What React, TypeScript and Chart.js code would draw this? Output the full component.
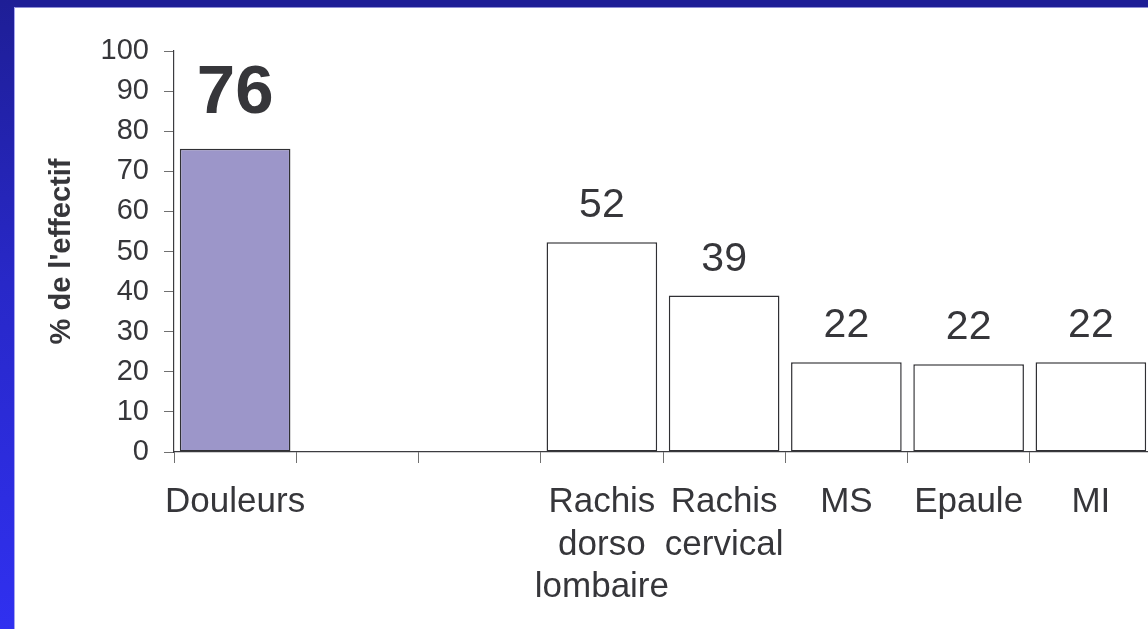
import React, { useEffect, useRef } from 'react';
import { Chart, registerables } from 'chart.js';

Chart.register(...registerables);

// ---- data ----
const categories: (string | string[])[] = [
  'Douleurs',
  '',
  '',
  ['Rachis', 'dorso', 'lombaire'],
  ['Rachis', 'cervical'],
  'MS',
  'Epaule',
  'MI',
];
const values: (number | null)[] = [75.6, null, null, 52.3, 39.0, 22.4, 21.9, 22.4];
const barFills: string[] = ['#9c96c9', '#ffffff', '#ffffff', '#ffffff', '#ffffff', '#ffffff', '#ffffff', '#ffffff'];
const yMin = 0;
const yMax = 100;
const yStep = 10;
const yTitle = "% de l'effectif";

// ---- style ----
const FONT = '"Liberation Sans", Arial, Helvetica, sans-serif';
const TEXT = '#36363a';
const W = 1148;
const H = 629;
const CANVAS_W = 1160;

const valueLabels = {
  id: 'valueLabels',
  afterDatasetsDraw(chart: any) {
    const ctx = chart.ctx;
    const meta = chart.getDatasetMeta(0);
    meta.data.forEach((el: any, i: number) => {
      const v = values[i];
      if (v == null) return;
      const big = i === 0;
      ctx.save();
      ctx.font = big ? `bold 69px ${FONT}` : `41px ${FONT}`;
      ctx.fillStyle = TEXT;
      ctx.textAlign = 'center';
      ctx.textBaseline = 'alphabetic';
      ctx.fillText(String(Math.round(v)), el.x, el.y - (big ? 36 : 25));
      ctx.restore();
    });
  },
};

export default function App() {
  const ref = useRef<HTMLCanvasElement | null>(null);

  useEffect(() => {
    if (!ref.current) return;
    const chart = new Chart(ref.current, {
      type: 'bar',
      data: {
        labels: categories as any,
        datasets: [
          {
            data: values as any,
            backgroundColor: barFills,
            borderColor: '#303034',
            borderWidth: 1.5,
            borderSkipped: false,
            barPercentage: 0.905,
            categoryPercentage: 1,
          },
        ],
      },
      options: {
        animation: false,
        responsive: false,
        devicePixelRatio: 1,
        layout: { padding: { top: 51, right: 8, bottom: 0, left: 0 } },
        plugins: {
          legend: { display: false },
          tooltip: { enabled: false },
          title: { display: false },
        },
        scales: {
          x: {
            type: 'category',
            offset: true,
            grid: {
              display: true,
              drawOnChartArea: false,
              drawTicks: true,
              tickLength: 11,
              color: '#707070',
              offset: true,
            },
            border: { display: true, color: '#3c3c40', width: 1.2 },
            ticks: {
              color: TEXT,
              font: { family: FONT, size: 35, lineHeight: 1.22 },
              padding: 18,
              maxRotation: 0,
              minRotation: 0,
              autoSkip: false,
            },
            afterFit: (scale: any) => {
              scale.height = H - 452;
            },
          },
          y: {
            min: yMin,
            max: yMax,
            grid: {
              display: true,
              drawOnChartArea: false,
              drawTicks: true,
              tickLength: 10,
              color: '#707070',
            },
            border: { display: true, color: '#3c3c40', width: 1.2 },
            ticks: {
              stepSize: yStep,
              color: TEXT,
              font: { family: FONT, size: 29 },
              padding: 15,
            },
            title: {
              display: true,
              text: yTitle,
              color: TEXT,
              font: { family: FONT, size: 29, weight: 'bold', lineHeight: 1.2 },
              padding: { top: 45, bottom: 0 },
            },
            afterFit: (scale: any) => {
              scale.width = 174;
            },
          },
        },
      },
      plugins: [valueLabels],
    } as any);
    return () => chart.destroy();
  }, []);

  return (
    <div
      style={{
        position: 'fixed',
        left: 0,
        top: 0,
        width: W,
        height: H,
        overflow: 'hidden',
        background: '#ffffff',
      }}
    >
      <canvas
        ref={ref}
        width={CANVAS_W}
        height={H}
        style={{ position: 'absolute', left: 0, top: 0 }}
      />
      <div
        style={{
          position: 'absolute',
          left: 0,
          top: 0,
          width: W,
          height: 7,
          background: '#1e1e96',
        }}
      />
      <div
        style={{
          position: 'absolute',
          left: 14,
          top: 7,
          width: W - 14,
          height: 1,
          background: '#8e8ed6',
        }}
      />
      <div
        style={{
          position: 'absolute',
          left: 0,
          top: 0,
          width: 14,
          height: H,
          background: 'linear-gradient(to bottom, #1e1e96 0%, #2828c8 45%, #3030f0 100%)',
        }}
      />
      <div
        style={{
          position: 'absolute',
          left: 14,
          top: 7,
          width: 1,
          height: H - 7,
          background: '#a6a6f0',
        }}
      />
    </div>
  );
}
